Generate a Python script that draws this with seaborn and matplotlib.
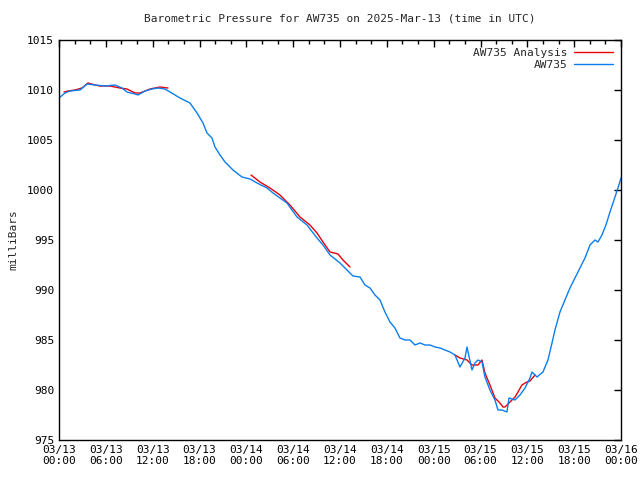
import numpy as np
import pandas as pd
import matplotlib
matplotlib.use("Agg")
import matplotlib.pyplot as plt
import seaborn as sns

# hours since 2025-03-13 00:00 UTC, pressure in mb
station_hours = [0.0, 0.77, 1.41, 2.69, 3.59, 4.61, 5.89, 7.17, 8.07, 8.71, 9.74, 10.12,
                 11.02, 11.91, 12.68, 13.58, 14.22, 14.86, 15.50, 16.78, 17.68, 18.45, 18.96,
                 19.60, 19.98, 20.63, 21.27, 21.91, 22.29, 23.44, 24.47, 25.37, 26.65, 27.42,
                 29.21, 30.49, 31.77, 33.05, 33.82, 34.72, 36.00, 36.89, 37.66, 38.56, 39.20,
                 39.84, 40.48, 41.12, 41.76, 42.40, 43.04, 43.68, 44.32, 44.97, 45.61, 46.25,
                 46.89, 47.53, 48.17, 48.81, 49.45, 50.09, 50.73, 51.37, 52.01, 52.27, 52.91,
                 53.29, 53.68, 54.19, 54.57, 55.21, 55.85, 56.24, 56.75, 57.39, 57.65, 58.42,
                 59.06, 59.70, 60.34, 60.60, 61.24, 62.00, 62.64, 63.16, 63.54, 64.18, 64.82,
                 65.46, 66.10, 66.74, 67.38, 68.03, 68.67, 69.05, 69.56, 70.07, 70.59, 71.10,
                 71.61, 72.0]
station_mb = [1009.2, 1009.7, 1009.9, 1010.0, 1010.6, 1010.5, 1010.4, 1010.5, 1010.2, 1009.8,
              1009.6, 1009.5, 1009.9, 1010.1, 1010.2, 1010.1, 1009.8, 1009.5, 1009.2, 1008.7,
              1007.7, 1006.7, 1005.7, 1005.2, 1004.3, 1003.5, 1002.8, 1002.3, 1002.0, 1001.3,
              1001.1, 1000.7, 1000.2, 999.7, 998.7, 997.3, 996.5, 995.2, 994.5, 993.5, 992.7,
              992.0, 991.4, 991.3, 990.5, 990.2, 989.5, 989.0, 987.8, 986.8, 986.2, 985.2,
              985.0, 985.0, 984.5, 984.7, 984.5, 984.5, 984.3, 984.2, 984.0, 983.8, 983.5,
              982.3, 983.2, 984.3, 982.0, 982.7, 983.0, 982.8, 981.3, 980.0, 979.0, 978.0,
              978.0, 977.8, 979.2, 979.0, 979.5, 980.2, 981.2, 981.8, 981.3, 981.8, 983.0,
              984.7, 986.0, 987.8, 989.0, 990.2, 991.2, 992.2, 993.2, 994.5, 995.0, 994.8,
              995.5, 996.5, 997.8, 999.0, 1000.2, 1001.2]

# analysis comes in three separate pieces
analysis_seg = [1] * 15 + [2] * 13 + [3] * 19
analysis_hours = [0.64, 1.15, 2.05, 2.95, 3.72, 4.61, 5.25, 6.53, 7.81, 8.71, 9.74, 10.38,
                  11.66, 12.94, 13.96,
                  24.6, 25.75, 27.03, 28.31, 29.59, 30.87, 32.15, 33.05, 33.82, 34.72, 35.74,
                  36.38, 37.28,
                  50.73, 51.37, 52.27, 52.91, 53.68, 54.19, 54.57, 55.21, 55.85, 56.49, 56.88,
                  57.14, 57.78, 58.42, 58.80, 59.31, 59.95, 60.34, 60.98]
analysis_mb = [1009.8, 1009.9, 1010.0, 1010.2, 1010.7, 1010.5, 1010.4, 1010.4, 1010.2, 1010.1,
               1009.7, 1009.7, 1010.1, 1010.3, 1010.2,
               1001.5, 1000.8, 1000.2, 999.5, 998.5, 997.3, 996.5, 995.7, 994.8, 993.8, 993.6,
               993.0, 992.3,
               983.5, 983.2, 983.0, 982.5, 982.5, 983.0, 981.7, 980.5, 979.2, 978.7, 978.3,
               978.3, 978.8, 979.3, 979.8, 980.5, 980.8, 980.9, 981.5]

tick_hours = list(range(0, 73, 6))
tick_labels = ["03/13\n00:00", "03/13\n06:00", "03/13\n12:00", "03/13\n18:00",
               "03/14\n00:00", "03/14\n06:00", "03/14\n12:00", "03/14\n18:00",
               "03/15\n00:00", "03/15\n06:00", "03/15\n12:00", "03/15\n18:00",
               "03/16\n00:00"]

station = pd.DataFrame({"hour": station_hours, "mb": station_mb})
analysis = pd.DataFrame({"hour": analysis_hours, "mb": analysis_mb, "seg": analysis_seg})

sns.set_style("white")
plt.rcParams["font.family"] = ["DejaVu Sans Mono"]
plt.rcParams["font.size"] = 8

fig = plt.figure(figsize=(6.4, 4.8), dpi=100)
ax = fig.add_axes([59 / 640, 40 / 480, 562 / 640, 400 / 480])

sns.lineplot(data=analysis, x="hour", y="mb", units="seg", estimator=None,
             color="#e8000b", lw=1, ax=ax, label="AW735 Analysis")
sns.lineplot(data=station, x="hour", y="mb", color="#0a7ef0", lw=1, ax=ax, label="AW735")

ax.set_xlim(0, 72)
ax.set_ylim(975, 1015)
ax.set_xticks(tick_hours)
ax.set_xticklabels(tick_labels)
ax.set_xticks(range(0, 73, 2), minor=True)
ax.set_yticks(range(975, 1016, 5))
ax.tick_params(axis="both", which="both", direction="in", top=True, right=True,
               colors="black", labelsize=8)
ax.tick_params(axis="both", which="major", length=5, width=1)
ax.tick_params(axis="x", which="minor", length=3, width=1)
for s in ax.spines.values():
    s.set_color("black")
    s.set_linewidth(1)

ax.set_xlabel("")
ax.set_ylabel("milliBars", fontsize=8)
ax.yaxis.set_label_coords(-0.072, 0.5)
ax.set_title("Barometric Pressure for AW735 on 2025-Mar-13 (time in UTC)", fontsize=8, pad=13)

# one legend entry per series (the analysis pieces share a label)
handles, labels = ax.get_legend_handles_labels()
seen = {}
for h, l in zip(handles, labels):
    if l not in seen:
        seen[l] = h
ax.legend(list(seen.values()), list(seen.keys()), loc="upper right", frameon=False,
          markerfirst=False, handlelength=3.5, fontsize=8, borderaxespad=0.3,
          labelspacing=0.2, handletextpad=0.6)

fig.savefig("out.png", dpi=100)
